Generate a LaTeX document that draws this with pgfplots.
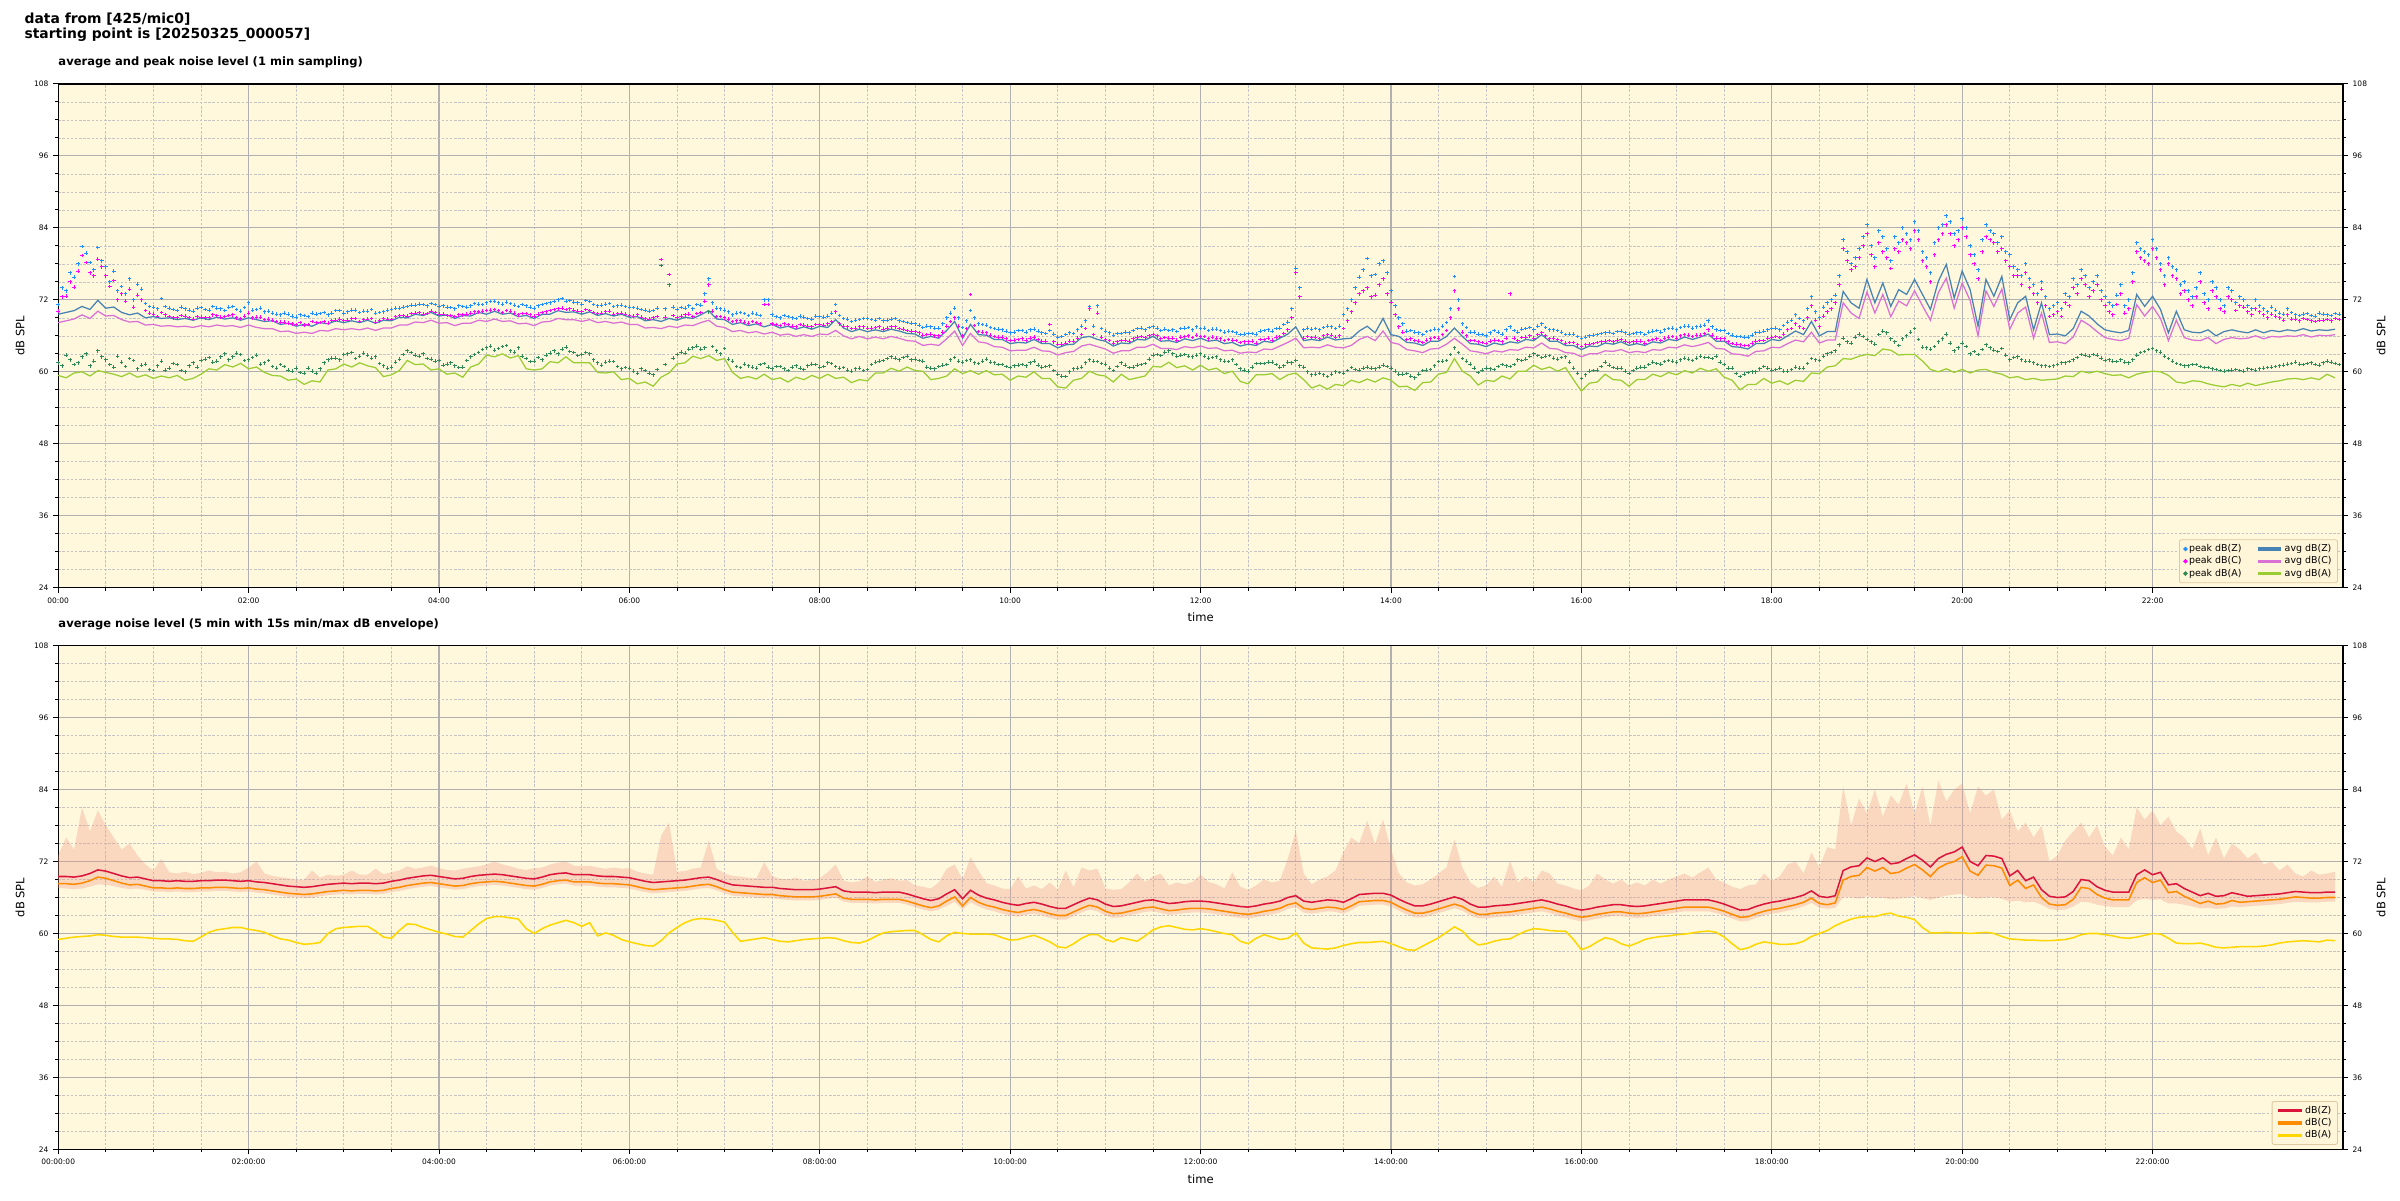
\documentclass[border=0pt]{standalone}
\usepackage{fontspec}
\setmainfont{DejaVu Sans}
\usepackage{pgfplots}
\usepackage{pgfplotstable}
\pgfplotsset{compat=1.18}

\definecolor{bgc}{RGB}{255,248,220}
\definecolor{gridmaj}{RGB}{176,176,176}
\definecolor{gridmin}{RGB}{196,196,196}
\definecolor{pkZ}{RGB}{30,144,255}
\definecolor{pkC}{RGB}{255,0,255}
\definecolor{pkA}{RGB}{46,139,87}
\definecolor{avZ}{RGB}{70,130,180}
\definecolor{avC}{RGB}{218,112,214}
\definecolor{avA}{RGB}{154,205,50}
\definecolor{lnZ}{RGB}{220,20,60}
\definecolor{lnC}{RGB}{255,140,0}
\definecolor{lnA}{RGB}{255,215,0}
\definecolor{envc}{RGB}{238,150,130}
\definecolor{legfill}{RGB}{255,246,218}
\definecolor{legdraw}{RGB}{224,200,160}

\pgfplotstableread{
t aZ aC aA pZ pC pA
0 69.6 68.2 59.4 71.2 70.1 61.5
5 69.9 68.5 59.0 73.5 72.6 62.8
10 70.2 68.8 59.8 75.8 74.1 61.2
15 70.9 69.5 60.0 80.9 79.4 62.5
20 70.4 68.9 59.3 78.2 76.5 61.0
25 71.9 70.1 60.2 80.7 78.8 63.5
30 70.6 69.3 59.9 77.5 76.0 62.0
35 70.8 69.4 59.6 76.8 75.2 60.8
40 69.9 68.7 59.2 74.2 73.0 61.6
45 69.5 68.3 59.8 75.5 73.8 62.2
50 69.8 68.4 59.1 74.6 72.8 60.5
55 69.0 67.8 59.5 71.4 70.2 61.3
60 69.2 67.9 58.9 70.8 69.6 60.2
65 68.9 67.6 59.3 72.2 69.9 61.8
70 69.0 67.7 59.0 70.6 69.2 60.6
75 68.7 67.5 59.4 70.2 69.0 61.2
80 68.9 67.6 58.6 70.5 69.3 60.0
85 68.6 67.4 58.9 70.1 68.8 61.5
90 69.0 67.7 59.6 70.7 69.1 61.9
95 68.7 67.5 60.5 70.3 69.0 62.4
100 69.1 67.8 60.3 70.6 69.4 61.8
105 68.8 67.6 61.2 70.2 69.2 63.0
110 69.0 67.7 60.8 70.9 69.5 62.5
115 68.6 67.4 61.4 70.1 68.9 62.9
120 69.0 67.8 60.5 71.5 69.8 62.0
125 68.7 67.4 60.8 70.4 69.1 62.8
130 68.4 67.2 59.9 70.0 68.7 61.5
135 68.5 67.2 59.4 69.8 68.6 60.9
140 67.9 66.7 59.3 69.5 68.3 61.2
145 68.1 66.8 58.6 69.6 68.1 60.3
150 67.6 66.4 58.8 69.1 67.9 60.6
155 67.9 66.6 57.9 69.4 67.8 59.8
160 67.6 66.4 58.5 69.8 68.4 60.1
165 68.2 66.9 58.3 69.7 68.2 60.5
170 68.0 66.8 60.3 69.5 68.1 62.0
175 68.5 67.2 60.5 70.2 68.6 62.3
180 68.2 67.0 61.3 69.8 68.5 62.9
185 68.5 67.2 60.8 70.3 68.9 63.2
190 68.2 67.0 61.5 69.9 68.4 62.6
195 68.6 67.3 61.0 70.1 68.8 62.8
200 68.1 66.9 60.7 69.8 68.3 62.5
205 68.6 67.3 59.2 70.0 68.9 61.0
210 68.5 67.3 59.5 70.4 68.7 60.8
215 69.1 67.8 60.2 70.6 69.4 62.1
220 69.0 67.8 61.9 70.9 69.3 63.5
225 69.6 68.3 61.2 71.1 69.8 62.8
230 69.4 68.2 61.3 71.2 69.6 63.0
235 69.9 68.6 60.3 71.4 70.1 62.1
240 69.3 68.1 60.5 70.9 69.6 61.9
245 69.5 68.2 59.6 70.8 69.4 61.3
250 68.9 67.7 59.8 70.5 69.2 61.0
255 69.4 68.1 59.1 70.9 69.5 60.8
260 69.3 68.1 60.8 71.0 69.8 62.5
265 69.9 68.6 61.3 71.3 70.0 63.2
270 69.6 68.4 62.8 71.5 70.2 64.0
275 70.1 68.8 62.5 71.8 70.4 63.6
280 69.6 68.4 63.0 71.3 69.9 64.2
285 69.8 68.5 62.3 71.4 70.1 63.5
290 69.2 68.0 62.7 70.9 69.5 64.0
295 69.4 68.1 60.5 71.0 69.7 62.2
300 68.9 67.7 60.3 70.6 69.3 61.8
305 69.6 68.3 60.5 71.2 69.9 62.0
310 69.6 68.4 61.7 71.5 70.2 63.1
315 70.2 68.9 61.5 72.0 70.5 63.0
320 69.9 68.7 62.5 71.8 70.4 64.1
325 70.0 68.7 61.5 71.6 70.3 63.2
330 69.6 68.4 61.5 71.3 70.0 62.9
335 70.0 68.7 61.5 71.7 70.2 63.0
340 69.4 68.2 59.9 71.0 69.7 61.5
345 69.7 68.4 59.8 71.3 70.0 61.6
350 69.3 68.1 60.0 70.9 69.6 61.7
355 69.6 68.3 58.7 71.1 69.8 60.5
360 69.1 67.9 58.9 70.8 69.4 60.6
365 69.2 67.9 58.0 70.6 69.5 59.8
370 68.5 67.3 58.3 70.3 68.9 60.2
375 68.7 67.4 57.6 70.2 69.0 59.5
380 68.4 67.2 59.1 78.7 78.7 77.7
385 68.9 67.6 59.8 76.2 76.2 74.5
390 68.6 67.4 61.3 70.4 69.0 62.9
395 69.1 67.8 61.5 70.6 69.5 63.1
400 68.9 67.7 62.6 70.5 69.2 64.0
405 69.5 68.2 62.2 71.1 69.9 63.8
410 70.2 68.6 62.7 75.5 74.5 70.0
415 68.8 67.6 61.9 70.6 69.2 63.5
420 68.7 67.4 62.2 70.3 69.0 63.9
425 67.9 66.7 59.9 69.5 68.4 61.8
430 68.2 66.9 58.9 69.9 68.5 60.7
435 67.7 66.5 59.2 69.4 68.1 61.0
440 68.0 66.7 58.8 69.6 68.2 60.6
445 67.5 66.3 59.6 72.0 71.2 61.4
450 67.9 66.6 58.7 69.5 68.0 60.5
455 67.3 66.1 59.0 69.0 67.7 60.9
460 67.6 66.3 58.3 69.2 67.9 60.2
465 67.1 65.9 59.1 68.9 67.5 61.0
470 67.5 66.2 58.7 69.1 67.8 60.4
475 67.1 65.9 59.4 68.8 67.5 61.3
480 67.6 66.3 58.9 69.2 67.9 60.8
485 67.4 66.2 59.6 69.3 68.0 61.5
490 68.7 66.9 58.9 71.2 70.0 60.9
495 67.3 66.0 59.1 68.9 67.6 60.7
500 66.7 65.5 58.2 68.4 67.2 60.1
505 67.1 65.9 58.7 68.7 67.5 60.6
510 66.7 65.5 58.5 68.9 67.3 60.4
515 67.0 65.8 59.8 68.6 67.4 61.6
520 66.7 65.5 59.8 68.5 67.1 61.9
525 67.1 65.9 60.6 68.8 67.5 62.5
530 66.8 65.6 60.1 68.5 67.2 62.0
535 66.4 65.2 60.8 68.2 66.9 62.6
540 66.3 65.1 60.2 68.0 66.7 62.1
545 65.6 64.4 60.1 67.4 66.1 61.8
550 65.9 64.6 58.7 67.5 66.3 60.6
555 65.6 64.4 58.9 67.3 66.0 60.9
560 66.9 65.5 59.3 69.0 67.6 61.2
565 68.4 66.8 60.5 70.6 69.0 62.4
570 65.6 64.4 59.7 67.4 66.0 61.6
575 67.9 66.4 60.2 70.2 72.9 62.0
580 66.2 65.0 59.6 68.0 66.7 61.4
585 66.1 64.8 60.2 67.8 66.5 62.1
590 65.4 64.2 59.5 67.2 65.9 61.5
595 65.4 64.1 59.6 67.0 65.8 61.2
600 64.7 63.5 58.6 66.5 65.2 60.7
605 64.9 63.6 59.3 66.9 65.4 61.1
610 64.8 63.6 59.1 66.6 65.3 61.0
615 65.4 64.1 60.0 67.1 65.8 61.8
620 64.7 63.5 58.9 66.5 65.1 60.8
625 64.7 63.4 58.9 66.9 67.9 61.0
630 64.0 62.8 57.5 65.8 64.6 59.6
635 64.5 63.2 57.3 66.2 64.8 59.2
640 64.6 63.4 58.6 66.4 65.1 60.5
645 65.7 64.3 58.9 67.6 66.2 60.8
650 65.9 64.6 60.1 70.9 70.5 62.0
655 65.4 64.2 59.5 71.0 69.8 61.7
660 65.1 63.8 59.3 66.8 65.4 61.3
665 64.3 63.1 58.3 66.1 64.8 60.2
670 64.8 63.5 59.6 66.4 65.2 61.5
675 64.7 63.5 58.7 66.5 65.1 60.7
680 65.4 64.1 59.0 67.2 65.8 61.1
685 65.3 64.1 59.3 67.0 65.7 61.4
690 65.9 64.6 60.9 67.5 66.2 62.8
695 65.1 63.9 60.8 66.9 65.5 62.7
700 65.2 63.9 61.6 66.9 65.6 63.5
705 64.9 63.7 60.7 66.7 65.3 62.6
710 65.5 64.2 61.0 67.3 65.9 62.9
715 65.2 64.0 60.3 67.0 65.7 62.5
720 65.6 64.3 61.1 67.2 65.9 63.0
725 65.1 63.9 60.3 66.9 65.5 62.3
730 65.3 64.0 60.6 67.1 65.6 62.5
735 64.7 63.5 59.7 66.6 65.2 61.8
740 64.9 63.6 60.1 66.7 65.3 62.0
745 64.3 63.1 58.4 66.2 64.9 60.5
750 64.6 63.3 58.0 66.4 65.0 60.1
755 64.4 63.2 59.5 66.3 64.8 61.4
760 65.1 63.8 59.5 66.9 65.4 61.4
765 64.9 63.7 59.7 66.8 65.3 61.6
770 65.6 64.3 58.7 67.3 65.9 60.8
775 66.3 64.9 59.5 68.3 67.0 61.6
780 67.5 65.6 59.8 77.3 76.5 61.9
785 65.2 64.0 58.7 67.0 65.6 60.8
790 65.4 64.1 57.3 67.1 65.7 59.5
795 65.2 64.0 57.8 67.0 65.5 59.8
800 65.8 64.5 57.1 67.6 66.2 59.2
805 65.3 64.1 57.9 67.2 65.8 60.0
810 65.5 64.0 57.7 69.5 67.2 59.8
815 65.6 64.4 58.6 72.0 70.0 60.7
820 66.8 65.4 58.2 75.8 73.0 60.3
825 67.6 65.9 58.8 78.9 74.0 60.8
830 66.5 65.2 58.3 76.2 72.8 60.5
835 68.9 66.8 59.0 78.5 75.5 61.1
840 66.2 64.9 58.6 73.5 71.6 60.6
845 65.9 64.6 57.5 69.0 67.5 59.6
850 64.9 63.7 57.6 66.8 65.4 59.7
855 64.8 63.5 56.9 66.6 65.2 59.0
860 64.4 63.2 58.2 66.2 64.9 60.2
865 65.1 63.8 58.3 66.9 65.5 60.4
870 65.1 63.9 59.6 67.0 65.6 61.7
875 65.9 64.6 59.9 68.2 66.9 61.9
880 67.3 65.6 62.2 75.9 73.5 64.0
885 65.9 64.6 60.1 68.0 66.6 62.2
890 64.7 63.5 59.3 66.6 65.2 61.3
895 64.6 63.3 57.8 66.3 65.0 59.9
900 64.2 63.0 58.6 66.0 64.7 60.6
905 64.8 63.5 58.4 66.9 65.3 60.4
910 64.5 63.3 59.3 66.3 65.0 61.2
915 65.0 63.7 58.8 67.5 73.0 60.9
920 64.8 63.6 60.1 66.6 65.2 62.0
925 65.4 64.1 60.1 67.2 65.8 62.1
930 65.2 64.0 61.1 67.0 65.6 63.0
935 66.2 64.8 60.4 68.0 66.5 62.4
940 65.1 63.9 60.8 67.0 65.5 62.7
945 65.1 63.8 60.1 66.9 65.4 62.1
950 64.4 63.2 60.7 66.2 64.8 62.5
955 64.4 63.1 58.7 66.3 64.9 60.6
960 63.7 62.5 56.8 65.6 64.2 58.9
965 64.3 63.0 58.1 66.0 64.6 60.1
970 64.2 63.0 58.3 66.2 64.9 60.3
975 64.8 63.5 59.6 66.5 65.1 61.6
980 64.6 63.4 58.7 66.4 65.0 60.7
985 65.0 63.7 58.6 66.8 65.4 60.6
990 64.4 63.2 57.6 66.3 64.9 59.7
995 64.7 63.4 58.7 66.5 65.1 60.6
1000 64.4 63.2 58.7 66.2 64.8 60.8
1005 65.0 63.7 59.6 66.8 65.4 61.6
1010 64.8 63.6 59.2 66.6 65.2 61.3
1015 65.4 64.1 59.9 67.2 65.8 61.9
1020 65.2 64.0 59.5 67.0 65.6 61.6
1025 65.8 64.5 60.2 67.6 66.2 62.3
1030 65.4 64.2 59.8 67.3 65.9 61.9
1035 65.8 64.5 60.6 67.6 66.1 62.6
1040 66.3 64.9 60.1 68.5 67.0 62.4
1045 65.1 63.9 60.5 67.0 65.6 62.6
1050 65.1 63.8 59.1 66.9 65.5 61.2
1055 64.2 63.0 58.6 66.1 64.7 60.6
1060 64.1 62.9 57.0 65.9 64.5 59.2
1065 63.8 62.6 57.9 65.8 64.4 59.9
1070 64.7 63.4 57.9 66.5 65.1 60.0
1075 64.7 63.5 58.9 66.8 65.2 60.9
1080 65.4 64.1 58.1 67.2 65.8 60.3
1085 65.2 64.0 58.5 67.0 65.7 60.6
1090 66.0 64.7 57.9 68.3 67.0 60.1
1095 66.8 65.3 58.6 69.5 68.0 60.8
1100 66.2 65.0 58.4 68.5 67.2 60.6
1105 68.4 66.6 59.8 72.5 71.0 62.2
1110 66.0 64.8 59.7 69.0 67.5 61.9
1115 66.7 65.3 60.8 71.5 70.0 63.0
1120 66.7 65.3 61.0 72.8 71.5 63.5
1125 73.4 71.5 62.2 82.0 80.5 65.6
1130 71.5 69.8 62.1 78.0 77.0 64.8
1135 70.6 68.9 62.6 80.5 79.0 66.3
1140 75.4 73.3 62.9 84.5 83.0 65.4
1145 71.5 69.8 62.7 79.0 77.5 64.6
1150 74.8 72.9 63.8 82.5 80.0 66.8
1155 70.9 69.2 63.6 78.5 77.2 65.5
1160 73.7 71.8 62.8 81.5 80.0 64.4
1165 72.9 71.0 62.9 83.0 81.5 66.0
1170 75.4 73.5 62.9 85.0 83.5 67.2
1175 72.9 71.0 61.8 80.0 78.5 64.1
1180 70.4 68.6 60.4 76.5 75.0 63.8
1185 75.1 73.2 60.0 84.0 82.0 65.0
1190 77.9 75.6 60.5 86.0 84.5 66.3
1195 72.3 70.6 59.9 83.0 81.0 63.5
1200 76.8 74.8 60.4 85.5 84.0 64.8
1205 73.7 71.9 59.8 81.0 79.5 63.0
1210 67.6 66.0 60.3 77.0 75.5 62.9
1215 75.4 73.5 60.4 84.5 82.5 64.5
1220 72.6 70.9 59.9 83.0 81.5 63.6
1225 75.9 73.8 59.6 82.5 80.5 63.9
1230 68.7 67.1 59.0 79.5 77.5 62.0
1235 71.5 69.8 59.2 77.0 76.0 62.5
1240 72.6 70.8 58.7 78.0 76.5 61.8
1245 67.0 65.6 58.9 74.5 73.0 61.5
1250 71.5 69.8 58.6 75.0 73.8 61.0
1255 66.2 64.9 58.7 70.5 69.2 60.9
1260 66.3 65.0 58.8 71.5 70.0 61.2
1265 66.0 64.7 59.3 73.0 71.5 61.5
1270 67.2 65.8 59.2 75.5 74.0 62.0
1275 70.1 68.6 60.1 77.0 75.5 62.9
1280 69.3 67.8 59.8 74.0 72.5 62.6
1285 68.0 66.7 60.1 76.0 74.5 62.8
1290 67.0 65.7 59.7 72.5 71.0 61.9
1295 66.7 65.4 59.4 71.0 69.5 61.8
1300 66.5 65.2 59.5 74.5 73.0 62.0
1305 66.9 65.6 59.0 72.0 70.5 61.5
1310 72.9 71.2 59.6 81.5 80.0 62.8
1315 70.9 69.3 59.9 80.0 78.5 63.4
1320 72.6 70.9 60.1 82.0 80.5 63.9
1325 70.4 68.9 60.0 78.0 77.0 63.3
1330 66.5 65.2 59.4 79.0 78.0 62.2
1335 70.1 68.6 58.3 77.0 75.5 61.4
1340 67.0 65.7 58.1 75.0 73.5 61.0
1345 66.6 65.3 58.5 72.5 71.0 61.2
1350 66.5 65.2 58.4 76.5 75.0 60.9
1355 67.0 65.7 58.0 72.0 70.5 60.7
1360 66.0 64.7 57.7 74.0 72.5 60.4
1365 66.7 65.4 57.5 71.0 70.0 60.1
1370 67.0 65.7 57.9 73.5 72.0 60.3
1375 66.7 65.5 57.6 72.5 71.0 60.2
1380 66.5 65.6 58.1 71.0 70.0 60.5
1385 67.0 66.0 57.7 72.0 70.5 60.3
1390 66.5 65.5 58.0 70.5 69.5 60.6
1395 66.9 65.9 58.3 70.8 69.6 60.8
1400 66.7 65.8 58.5 69.8 69.0 61.0
1405 67.0 66.0 58.8 70.5 69.5 61.3
1410 66.8 65.9 58.9 69.5 68.8 61.6
1415 67.2 66.2 58.7 69.6 68.9 61.2
1420 66.8 65.8 59.0 69.4 68.5 61.5
1425 67.0 66.1 58.7 69.8 68.6 61.1
1430 66.9 66.0 59.6 69.5 68.7 61.8
1435 67.1 66.2 59.0 69.7 68.9 61.4
}\topdata

% second set of 1-min peak samples (between the rows above)
\pgfplotstableread{
t pZ pC pA
2.5 74.0 72.5 61.0
7.5 76.5 75.0 62.0
12.5 78.0 76.8 61.5
17.5 79.8 78.2 63.0
22.5 77.0 76.0 61.8
27.5 78.5 77.5 62.5
32.5 75.0 74.2 61.2
37.5 73.5 72.0 62.6
42.5 73.0 71.8 60.9
47.5 72.0 70.8 61.9
52.5 73.8 72.0 61.1
57.5 70.9 69.8 60.4
62.5 70.5 69.2 61.0
67.5 70.9 69.5 60.3
72.5 70.4 69.0 61.4
77.5 70.8 69.4 60.2
82.5 70.3 69.0 61.0
87.5 70.6 69.2 60.8
92.5 70.4 69.0 62.1
97.5 70.9 69.5 61.6
102.5 70.5 69.1 62.5
107.5 70.8 69.4 62.0
112.5 70.4 69.0 63.1
117.5 70.7 69.3 61.9
122.5 70.3 69.0 62.4
127.5 70.6 69.1 61.3
132.5 70.1 68.8 61.9
137.5 69.6 68.4 60.6
142.5 69.8 68.3 60.9
147.5 69.3 68.0 60.1
152.5 69.5 68.2 59.9
157.5 69.2 67.9 60.6
162.5 69.6 68.2 59.8
167.5 69.9 68.4 61.5
172.5 69.8 68.5 62.3
177.5 70.2 68.8 62.0
182.5 70.0 68.6 63.0
187.5 70.3 68.9 62.2
192.5 70.1 68.7 63.1
197.5 70.4 68.9 62.3
202.5 69.9 68.5 61.4
207.5 70.3 68.8 60.6
212.5 70.6 69.2 61.6
217.5 70.8 69.4 62.9
222.5 71.1 69.7 63.2
227.5 71.3 69.9 62.6
232.5 71.0 69.7 62.2
237.5 71.2 69.9 61.8
242.5 71.0 69.6 61.1
247.5 70.7 69.4 61.5
252.5 71.0 69.5 60.7
257.5 70.8 69.6 61.9
262.5 71.4 70.0 62.9
267.5 71.2 70.1 63.7
272.5 71.7 70.3 64.3
277.5 71.5 70.2 63.9
282.5 71.6 70.2 64.4
287.5 71.1 69.8 63.3
292.5 71.2 69.7 62.6
297.5 70.8 69.5 61.7
302.5 71.0 69.6 62.4
307.5 71.4 70.0 62.8
312.5 71.7 70.4 63.5
317.5 72.2 70.6 63.8
322.5 71.9 70.5 63.4
327.5 71.5 70.1 62.7
332.5 71.9 70.4 63.2
337.5 71.2 69.9 62.0
342.5 71.1 69.8 61.1
347.5 71.4 70.1 61.8
352.5 71.0 69.7 60.9
357.5 70.9 69.6 60.7
362.5 70.7 69.3 60.1
367.5 70.4 69.1 60.5
372.5 70.1 68.8 59.8
377.5 70.6 69.2 60.4
382.5 70.5 69.1 61.2
387.5 70.8 69.4 62.3
392.5 70.7 69.3 63.3
397.5 71.0 69.6 63.8
402.5 71.2 69.7 64.3
407.5 73.0 71.8 64.0
412.5 71.5 70.1 64.2
417.5 70.5 69.2 63.0
422.5 70.0 68.8 62.1
427.5 69.8 68.5 60.9
432.5 69.7 68.3 61.3
437.5 69.8 68.4 60.8
442.5 69.4 68.0 61.2
447.5 72.0 71.2 60.8
452.5 69.2 67.9 60.9
457.5 69.4 68.0 60.5
462.5 69.0 67.6 60.8
467.5 69.3 67.9 60.6
472.5 68.9 67.6 61.0
477.5 69.3 67.9 61.2
482.5 69.1 67.8 60.9
487.5 69.8 68.4 61.4
492.5 69.4 68.0 60.6
497.5 68.8 67.5 60.3
502.5 68.6 67.3 60.5
507.5 68.9 67.5 60.2
512.5 68.7 67.3 61.2
517.5 68.9 67.5 61.8
522.5 68.6 67.3 62.2
527.5 68.9 67.5 62.3
532.5 68.4 67.1 62.4
537.5 68.1 66.8 62.0
542.5 67.8 66.5 61.9
547.5 67.6 66.2 60.8
552.5 67.3 66.0 60.5
557.5 68.0 66.6 61.1
562.5 69.8 68.4 62.0
567.5 69.0 67.6 61.8
572.5 68.5 67.2 61.9
577.5 69.0 67.7 61.5
582.5 67.9 66.6 61.8
587.5 67.4 66.1 61.6
592.5 67.1 65.8 61.2
597.5 66.8 65.5 60.9
602.5 66.6 65.3 61.0
607.5 66.9 65.5 61.2
612.5 67.0 65.6 61.5
617.5 66.8 65.4 61.1
622.5 66.4 65.1 60.9
627.5 66.3 65.0 60.2
632.5 65.9 64.6 59.3
637.5 66.5 65.1 60.0
642.5 67.0 65.6 60.6
647.5 68.5 67.2 61.5
652.5 67.6 66.2 61.8
657.5 67.2 65.8 61.4
662.5 66.5 65.2 60.6
667.5 66.4 65.0 60.9
672.5 66.6 65.3 61.1
677.5 66.9 65.5 60.8
682.5 67.3 65.9 61.2
687.5 67.4 66.0 62.1
692.5 67.3 66.0 62.9
697.5 67.1 65.7 63.3
702.5 67.0 65.6 63.0
707.5 67.2 65.8 62.8
712.5 67.4 66.0 62.6
717.5 67.5 66.1 62.8
722.5 67.3 65.9 62.6
727.5 67.1 65.8 62.4
732.5 66.9 65.5 62.0
737.5 66.8 65.4 61.7
742.5 66.5 65.2 61.2
747.5 66.3 65.0 60.3
752.5 66.4 65.1 60.8
757.5 66.8 65.4 61.4
762.5 67.0 65.6 61.6
767.5 67.2 65.8 61.2
772.5 67.9 66.4 61.0
777.5 70.5 69.0 61.5
782.5 74.0 72.5 61.0
787.5 67.3 65.9 60.0
792.5 67.2 65.8 59.6
797.5 67.4 66.0 59.5
802.5 67.5 66.1 59.6
807.5 67.6 66.0 59.9
812.5 70.5 68.5 60.2
817.5 74.0 71.5 60.4
822.5 77.0 73.5 60.6
827.5 76.0 72.5 60.6
832.5 78.0 74.5 60.8
837.5 76.5 73.0 60.9
842.5 71.0 69.5 60.1
847.5 68.0 66.6 59.6
852.5 66.9 65.5 59.3
857.5 66.5 65.1 59.6
862.5 66.7 65.3 60.3
867.5 67.1 65.7 61.0
872.5 67.6 66.2 61.8
877.5 70.5 69.0 62.9
882.5 72.0 70.5 63.2
887.5 67.4 66.0 61.8
892.5 66.6 65.2 60.6
897.5 66.2 64.9 60.3
902.5 66.5 65.1 60.5
907.5 66.6 65.2 60.9
912.5 67.0 65.6 61.0
917.5 66.9 65.6 61.2
922.5 67.1 65.7 61.9
927.5 67.4 66.0 62.6
932.5 67.6 66.2 62.7
937.5 67.4 66.0 62.6
942.5 67.0 65.6 62.3
947.5 66.6 65.2 62.4
952.5 66.3 64.9 61.6
957.5 65.9 64.5 59.8
962.5 65.8 64.5 59.5
967.5 66.1 64.7 60.2
972.5 66.4 65.0 60.9
977.5 66.6 65.2 61.1
982.5 66.7 65.3 60.6
987.5 66.5 65.1 60.1
992.5 66.4 65.0 60.2
997.5 66.5 65.1 60.8
1002.5 66.6 65.2 61.2
1007.5 66.9 65.5 61.4
1012.5 67.0 65.6 61.7
1017.5 67.3 65.9 61.8
1022.5 67.4 66.0 62.0
1027.5 67.6 66.1 62.1
1032.5 67.5 66.1 62.3
1037.5 67.8 66.4 62.4
1042.5 67.5 66.1 62.2
1047.5 66.9 65.5 61.6
1052.5 66.4 65.0 60.6
1057.5 65.9 64.6 59.7
1062.5 65.8 64.4 59.6
1067.5 66.1 64.8 60.0
1072.5 66.6 65.2 60.5
1077.5 67.0 65.6 60.6
1082.5 67.3 65.9 60.4
1087.5 67.7 66.3 60.1
1092.5 68.6 67.2 60.4
1097.5 68.9 67.5 60.6
1102.5 70.5 69.0 61.4
1107.5 70.0 68.6 62.0
1112.5 70.8 69.3 62.6
1117.5 72.0 70.5 63.2
1122.5 76.0 74.5 64.5
1127.5 80.0 78.5 65.0
1132.5 79.0 77.5 65.8
1137.5 82.5 81.0 65.9
1142.5 81.0 79.5 65.0
1147.5 83.5 81.5 66.2
1152.5 80.5 79.0 66.5
1157.5 82.5 80.5 65.0
1162.5 84.0 82.0 65.5
1167.5 82.0 80.5 66.6
1172.5 83.5 82.0 65.4
1177.5 79.0 77.5 64.0
1182.5 81.5 79.5 64.2
1187.5 84.5 83.0 65.5
1192.5 85.0 83.0 64.8
1197.5 83.5 82.0 64.0
1202.5 84.0 82.5 64.2
1207.5 79.5 78.0 63.4
1212.5 82.0 80.0 63.7
1217.5 83.5 82.0 64.0
1222.5 81.5 80.0 63.4
1227.5 80.0 78.5 62.8
1232.5 77.5 76.0 62.4
1237.5 76.0 74.5 62.0
1242.5 75.5 74.0 61.8
1247.5 73.0 71.5 61.2
1252.5 72.5 71.0 61.0
1257.5 71.0 69.5 61.0
1262.5 70.5 69.2 61.5
1267.5 72.5 71.0 61.7
1272.5 74.5 73.0 62.4
1277.5 76.0 74.5 62.8
1282.5 75.0 73.5 62.9
1287.5 73.5 72.0 62.3
1292.5 71.5 70.0 62.0
1297.5 72.8 71.2 61.7
1302.5 71.0 69.8 61.6
1307.5 76.5 75.0 62.0
1312.5 80.5 79.0 63.2
1317.5 79.5 78.0 63.7
1322.5 80.5 79.0 63.5
1327.5 76.0 74.5 62.6
1332.5 77.5 76.0 61.8
1337.5 74.5 73.0 61.2
1342.5 73.5 72.0 61.0
1347.5 74.0 72.5 61.2
1352.5 73.0 71.5 60.7
1357.5 75.0 73.5 60.5
1362.5 72.0 70.5 60.2
1367.5 74.0 72.5 60.2
1372.5 71.5 70.2 60.4
1377.5 72.0 70.8 60.1
1382.5 70.5 69.5 60.4
1387.5 71.0 70.0 60.5
1392.5 70.0 69.0 60.7
1397.5 70.3 69.3 60.9
1402.5 69.6 68.6 61.1
1407.5 69.9 68.8 61.4
1412.5 69.4 68.5 61.3
1417.5 69.7 68.7 61.4
1422.5 69.3 68.4 61.2
1427.5 69.6 68.6 61.5
1432.5 69.4 68.5 61.6
1437.5 69.6 68.7 61.2
}\topdataB

\pgfplotstableread{
t Z C A lo hi
0 69.5 68.3 59.0 67.6 73.0
5 69.5 68.3 59.2 67.5 76.0
10 69.4 68.2 59.4 67.4 74.0
15 69.6 68.4 59.5 67.5 81.0
20 70.0 68.8 59.6 67.8 77.0
25 70.6 69.4 59.8 68.2 80.5
30 70.4 69.2 59.7 68.1 78.0
35 70.0 68.8 59.5 67.9 76.0
40 69.6 68.4 59.4 67.6 74.0
45 69.3 68.1 59.4 67.4 75.0
50 69.4 68.2 59.4 67.5 73.0
55 69.1 67.9 59.3 67.3 71.5
60 68.8 67.6 59.2 67.0 70.5
65 68.8 67.6 59.1 67.0 72.4
70 68.7 67.5 59.1 66.9 70.2
75 68.8 67.6 59.0 67.0 70.0
80 68.7 67.5 58.8 66.9 70.3
85 68.7 67.5 58.7 66.9 69.9
90 68.8 67.6 59.4 67.0 70.1
95 68.8 67.6 60.2 67.0 70.5
100 68.9 67.7 60.6 67.1 70.2
105 68.9 67.7 60.8 67.1 70.3
110 68.8 67.6 61.0 67.0 70.0
115 68.7 67.5 61.0 66.9 70.2
120 68.8 67.6 60.7 67.0 71.0
125 68.6 67.4 60.5 66.8 72.0
130 68.5 67.3 60.2 66.7 70.0
135 68.3 67.1 59.6 66.5 69.6
140 68.1 66.9 59.1 66.3 69.4
145 67.9 66.7 58.9 66.1 69.2
150 67.8 66.6 58.5 66.0 69.0
155 67.7 66.5 58.2 65.9 69.0
160 67.8 66.6 58.3 66.0 70.5
165 68.0 66.8 58.5 66.2 69.3
170 68.2 67.0 60.0 66.4 69.8
175 68.3 67.1 60.8 66.5 69.6
180 68.4 67.2 61.0 66.6 69.8
185 68.3 67.1 61.1 66.5 70.5
190 68.4 67.2 61.2 66.6 69.8
195 68.4 67.2 61.2 66.6 69.8
200 68.3 67.1 60.4 66.5 70.8
205 68.4 67.2 59.4 66.6 69.9
210 68.7 67.5 59.2 66.9 70.2
215 68.9 67.7 60.5 67.1 70.5
220 69.2 68.0 61.6 67.4 71.2
225 69.4 68.2 61.5 67.6 70.8
230 69.6 68.4 61.0 67.8 71.0
235 69.7 68.5 60.6 67.9 71.3
240 69.5 68.3 60.2 67.7 70.9
245 69.3 68.1 59.9 67.5 70.6
250 69.1 67.9 59.5 67.3 70.5
255 69.2 68.0 59.4 67.4 70.8
260 69.5 68.3 60.5 67.7 71.0
265 69.7 68.5 61.6 67.9 71.2
270 69.8 68.6 62.5 68.0 71.5
275 69.9 68.7 62.8 68.1 72.0
280 69.8 68.6 62.8 68.0 71.5
285 69.6 68.4 62.6 67.8 71.2
290 69.4 68.2 62.4 67.6 70.8
295 69.2 68.0 60.8 67.4 70.6
300 69.1 67.9 60.0 67.3 70.9
305 69.4 68.2 60.8 67.6 71.0
310 69.8 68.6 61.4 68.0 71.5
315 70.0 68.8 61.8 68.2 71.8
320 70.1 68.9 62.2 68.3 72.0
325 69.8 68.6 61.8 68.0 71.3
330 69.8 68.6 61.2 68.0 71.2
335 69.8 68.6 61.8 68.0 71.3
340 69.6 68.4 59.6 67.8 71.0
345 69.5 68.3 60.1 67.7 70.8
350 69.5 68.3 59.7 67.7 71.0
355 69.4 68.2 59.0 67.6 70.8
360 69.3 68.1 58.6 67.5 70.9
365 69.0 67.8 58.3 67.2 70.3
370 68.7 67.5 58.0 66.9 70.0
375 68.5 67.3 57.9 66.7 69.8
380 68.6 67.4 58.8 66.8 76.3
385 68.7 67.5 60.1 66.9 78.5
390 68.8 67.6 61.0 67.0 70.3
395 68.9 67.7 61.8 67.1 70.4
400 69.1 67.9 62.3 67.3 70.8
405 69.3 68.1 62.5 67.5 71.0
410 69.4 68.2 62.4 67.6 75.5
415 69.0 67.8 62.2 67.2 70.8
420 68.5 67.3 61.9 66.7 70.0
425 68.1 66.9 60.2 66.3 69.6
430 68.0 66.8 58.7 66.2 69.5
435 67.9 66.7 58.9 66.1 69.3
440 67.8 66.6 59.1 66.0 69.2
445 67.7 66.5 59.3 65.9 71.9
450 67.7 66.5 59.0 65.9 69.6
455 67.5 66.3 58.7 65.7 69.1
460 67.4 66.2 58.6 65.6 69.0
465 67.3 66.1 58.8 65.5 69.3
470 67.3 66.1 59.0 65.5 68.8
475 67.3 66.1 59.1 65.5 68.9
480 67.4 66.2 59.2 65.6 69.2
485 67.6 66.4 59.3 65.8 70.2
490 67.8 66.6 59.2 66.0 71.5
495 67.1 65.9 58.8 65.3 68.8
500 66.9 65.7 58.5 65.1 68.5
505 66.9 65.7 58.4 65.1 68.7
510 66.9 65.7 58.8 65.1 69.5
515 66.8 65.6 59.5 65.0 68.6
520 66.9 65.7 60.1 65.1 68.9
525 66.9 65.7 60.3 65.1 69.2
530 66.9 65.7 60.4 65.1 68.8
535 66.6 65.4 60.5 64.8 68.9
540 66.2 65.0 60.5 64.4 68.0
545 65.8 64.6 59.8 64.0 67.8
550 65.5 64.3 59.0 63.7 67.5
555 65.8 64.6 58.6 64.0 68.5
560 66.6 65.4 59.6 64.6 70.8
565 67.3 66.1 60.2 65.3 71.5
570 65.8 64.6 60.0 64.0 69.0
575 67.2 66.0 59.9 65.2 72.7
580 66.4 65.2 59.9 64.5 70.5
585 65.9 64.7 59.9 64.0 68.4
590 65.6 64.4 59.8 63.7 68.0
595 65.2 64.0 59.3 63.3 67.5
600 64.9 63.7 58.9 63.0 67.4
605 64.7 63.5 59.0 62.8 69.5
610 65.0 63.8 59.4 63.1 67.5
615 65.2 64.0 59.7 63.3 68.0
620 64.9 63.7 59.2 63.0 67.4
625 64.5 63.3 58.6 62.6 68.5
630 64.2 63.0 57.8 62.3 67.3
635 64.2 63.0 57.6 62.3 70.5
640 64.8 63.6 58.3 62.9 67.7
645 65.4 64.2 59.2 63.5 71.0
650 65.9 64.7 59.8 64.0 70.5
655 65.6 64.4 59.8 63.7 70.8
660 64.9 63.7 59.0 63.0 67.5
665 64.5 63.3 58.6 62.6 67.3
670 64.6 63.4 59.3 62.7 67.4
675 64.9 63.7 59.0 63.0 68.5
680 65.2 64.0 58.7 63.3 70.0
685 65.5 64.3 59.6 63.6 68.6
690 65.6 64.4 60.6 63.7 69.5
695 65.3 64.1 61.1 63.4 70.0
700 65.0 63.8 61.3 63.1 68.0
705 65.1 63.9 61.0 63.2 68.5
710 65.3 64.1 60.7 63.4 68.2
715 65.4 64.2 60.6 63.5 68.6
720 65.4 64.2 60.8 63.5 69.8
725 65.3 64.1 60.6 63.4 68.6
730 65.1 63.9 60.3 63.2 68.2
735 64.9 63.7 60.0 63.0 67.5
740 64.7 63.5 59.8 62.8 70.2
745 64.5 63.3 58.7 62.6 67.8
750 64.4 63.2 58.3 62.5 67.3
755 64.6 63.4 59.2 62.7 68.0
760 64.9 63.7 59.8 63.0 69.0
765 65.1 63.9 59.4 63.2 68.5
770 65.4 64.2 59.0 63.5 68.8
775 66.0 64.8 59.2 64.1 72.5
780 66.3 65.1 60.1 64.4 77.1
785 65.4 64.2 58.4 63.5 70.0
790 65.2 64.0 57.6 63.3 68.2
795 65.4 64.2 57.5 63.5 69.0
800 65.6 64.4 57.4 63.7 69.5
805 65.5 64.3 57.6 63.6 70.5
810 65.2 64.0 58.0 63.3 73.5
815 65.8 64.6 58.3 63.9 76.0
820 66.5 65.3 58.5 64.6 75.0
825 66.6 65.4 58.5 64.7 78.8
830 66.7 65.5 58.6 64.8 74.9
835 66.7 65.5 58.7 64.8 79.0
840 66.4 65.2 58.3 64.5 74.0
845 65.7 64.5 57.8 63.8 70.0
850 65.1 63.9 57.3 63.2 68.5
855 64.6 63.4 57.2 62.7 68.0
860 64.6 63.4 57.9 62.7 68.2
865 64.9 63.7 58.6 63.0 69.0
870 65.3 64.1 59.3 63.4 70.0
875 65.7 64.5 60.2 63.8 71.0
880 66.1 64.9 61.1 64.2 75.7
885 65.7 64.5 60.4 63.8 71.0
890 64.9 63.7 59.0 63.0 68.5
895 64.4 63.2 58.1 62.5 67.6
900 64.4 63.2 58.3 62.5 68.0
905 64.6 63.4 58.7 62.7 69.5
910 64.7 63.5 59.0 62.8 67.8
915 64.8 63.6 59.1 62.9 72.1
920 65.0 63.8 59.8 63.1 68.5
925 65.2 64.0 60.4 63.3 69.5
930 65.4 64.2 60.8 63.5 68.5
935 65.6 64.4 60.7 63.7 70.5
940 65.3 64.1 60.5 63.4 70.0
945 64.9 63.7 60.4 63.0 68.3
950 64.6 63.4 60.4 62.7 68.0
955 64.2 63.0 59.0 62.3 67.5
960 63.9 62.7 57.3 62.0 67.2
965 64.1 62.9 57.8 62.2 68.0
970 64.4 63.2 58.6 62.5 70.0
975 64.6 63.4 59.3 62.7 69.0
980 64.8 63.6 59.0 62.9 68.3
985 64.8 63.6 58.3 62.9 69.0
990 64.6 63.4 57.9 62.7 68.0
995 64.5 63.3 58.4 62.6 68.5
1000 64.6 63.4 59.0 62.7 68.0
1005 64.8 63.6 59.3 62.9 69.0
1010 65.0 63.8 59.5 63.1 68.3
1015 65.2 64.0 59.6 63.3 69.0
1020 65.4 64.2 59.8 63.5 69.5
1025 65.6 64.4 59.9 63.7 70.0
1030 65.6 64.4 60.1 63.7 69.3
1035 65.6 64.4 60.3 63.7 70.2
1040 65.6 64.4 60.4 63.7 71.0
1045 65.3 64.1 60.2 63.4 69.0
1050 64.9 63.7 59.4 63.0 68.5
1055 64.4 63.2 58.3 62.5 67.8
1060 63.9 62.7 57.3 62.0 67.4
1065 64.0 62.8 57.6 62.1 68.0
1070 64.5 63.3 58.2 62.6 68.2
1075 64.9 63.7 58.6 63.0 70.0
1080 65.2 64.0 58.4 63.3 68.8
1085 65.4 64.2 58.2 63.5 69.5
1090 65.7 64.5 58.2 63.8 71.5
1095 66.0 64.8 58.3 64.1 72.0
1100 66.4 65.2 58.7 64.5 70.0
1105 67.1 65.9 59.5 65.1 73.5
1110 66.2 65.0 60.0 64.3 71.0
1115 66.0 64.8 60.5 64.1 74.4
1120 66.3 65.1 61.3 64.3 74.0
1125 70.5 68.9 61.9 66.0 84.5
1130 71.1 69.5 62.4 66.0 78.0
1135 71.3 69.7 62.7 65.8 82.5
1140 72.6 71.0 62.8 66.2 80.0
1145 72.0 70.4 62.8 65.9 84.0
1150 72.6 71.0 63.2 66.0 79.5
1155 71.6 70.0 63.4 65.7 83.0
1160 71.8 70.2 62.9 65.8 81.5
1165 72.5 70.9 62.7 66.0 85.0
1170 73.1 71.5 62.3 66.2 80.0
1175 72.2 70.6 61.0 65.9 84.5
1180 71.1 69.5 60.1 65.6 78.0
1185 72.5 70.9 60.1 66.0 85.5
1190 73.2 71.6 60.2 66.3 82.0
1195 73.6 72.0 60.1 66.5 84.0
1200 74.4 72.8 60.1 66.6 85.0
1205 72.0 70.4 60.0 66.0 80.0
1210 71.3 69.7 60.1 65.8 84.5
1215 73.0 71.4 60.2 66.1 83.0
1220 72.9 71.3 60.0 66.0 84.0
1225 72.5 70.9 59.5 65.8 79.0
1230 69.6 68.0 59.1 65.3 80.5
1235 70.5 68.9 59.0 65.5 77.0
1240 68.8 67.5 58.9 65.2 78.5
1245 69.4 68.1 58.9 65.3 76.0
1250 67.3 66.0 58.8 64.8 78.0
1255 66.2 64.9 58.8 64.1 72.0
1260 66.0 64.7 58.9 63.9 73.0
1265 66.1 64.8 59.0 64.0 75.5
1270 67.0 65.7 59.3 64.5 77.0
1275 69.0 67.7 59.8 65.3 78.5
1280 68.8 67.5 60.0 65.2 76.0
1285 67.8 66.5 60.0 64.8 78.0
1290 67.2 65.9 59.8 64.6 74.5
1295 66.9 65.6 59.6 64.4 73.0
1300 66.9 65.6 59.3 64.4 76.0
1305 66.9 65.6 59.2 64.4 74.0
1310 69.8 68.5 59.4 65.5 81.0
1315 70.6 69.3 59.7 65.8 79.0
1320 69.8 68.5 60.0 65.6 80.5
1325 70.2 68.9 59.9 65.7 78.0
1330 68.1 66.8 59.2 65.0 79.5
1335 68.3 67.0 58.4 65.0 77.0
1340 67.5 66.2 58.3 64.8 76.0
1345 66.9 65.6 58.3 64.5 74.0
1350 66.3 65.0 58.4 64.2 77.5
1355 66.7 65.4 58.1 64.3 73.0
1360 66.2 64.9 57.7 64.1 76.0
1365 66.3 65.0 57.6 64.2 72.5
1370 66.8 65.5 57.7 64.5 75.0
1375 66.5 65.2 57.8 64.4 74.0
1380 66.2 65.3 57.8 64.5 72.5
1385 66.3 65.4 57.8 64.6 73.5
1390 66.4 65.5 57.9 64.7 71.5
1395 66.5 65.6 58.1 64.8 72.0
1400 66.6 65.7 58.4 64.9 70.5
1405 66.8 65.9 58.6 65.1 71.5
1410 67.0 66.1 58.7 65.3 70.0
1415 66.9 66.0 58.8 65.2 69.5
1420 66.8 65.9 58.7 65.2 70.5
1425 66.8 65.9 58.6 65.2 69.8
1430 66.9 66.0 58.9 65.3 70.0
1435 66.9 66.0 58.8 65.3 70.3
}\botdata

\pgfplotsset{
  dbbase/.style={
    scale only axis, width=1645pt, height=362.8pt,
    xmin=0, xmax=1440, ymin=24, ymax=108,
    ytick={24,36,...,108}, minor y tick num=3,
    tick align=outside,
    major tick length=3.5pt, minor tick length=2pt,
    every tick/.style={black, line width=0.6pt},
    tick label style={font=\fontsize{5.4}{6}\selectfont},
    /pgf/number format/assume math mode=true,
    label style={font=\fontsize{8.3}{9}\selectfont},
  },
  legstyle/.style={
    legend cell align=left,
    legend style={font=\fontsize{6.8}{8}\selectfont, fill=legfill, draw=legdraw,
                  rounded corners=1.5pt, line width=0.6pt,
                  nodes={inner sep=1.3pt}, row sep=-0.4pt},
  },
  dbaxis/.style={
    dbbase, legstyle,
    xtick={0,120,...,1320}, minor x tick num=3,
    xtick pos=left, ytick pos=left,
    grid=both,
    major grid style={line width=0.8pt, color=gridmaj},
    minor grid style={line width=0.45pt, color=gridmin, dash pattern=on 1.8pt off 1.2pt},
    axis line style={line width=0.9pt},
    axis background/.style={fill=bgc},
    xlabel={time}, ylabel={dB SPL},
    title style={at={(0,1)}, anchor=base west, yshift=7pt, inner sep=0pt,
                 font=\bfseries\fontsize{8.3}{9}\selectfont},
  },
  rightaxis/.style={
    dbbase,
    axis x line=none, axis y line*=right,
    axis line style={line width=0.9pt},
    ylabel={dB SPL},
  },
}

\begin{document}
\begin{tikzpicture}
\path[use as bounding box] (0,0) rectangle (1728pt,864pt);

\node[anchor=base west, inner sep=0pt, font=\bfseries\fontsize{10}{12}\selectfont] at (17.5pt,847.2pt) {data from [425/mic0]};
\node[anchor=base west, inner sep=0pt, font=\bfseries\fontsize{10}{12}\selectfont] at (17.5pt,836.4pt) {starting point is [20250325\_000057]};

% ---------------- top panel ----------------
\begin{axis}[dbaxis, at={(41.9pt,440.8pt)}, anchor=south west,
  xticklabels={00:00,02:00,04:00,06:00,08:00,10:00,12:00,14:00,16:00,18:00,20:00,22:00},
  title={average and peak noise level (1 min sampling)},
  legend columns=2,
  legend style={at={(0.9978,0.009)}, anchor=south east, /tikz/every even column/.append style={column sep=9pt}},
]
\addlegendimage{only marks, mark=*, mark size=1.3pt, color=pkZ}
\addlegendentry{peak dB(Z)}
\addlegendimage{line width=2.4pt, color=avZ}
\addlegendentry{avg dB(Z)}
\addlegendimage{only marks, mark=*, mark size=1.3pt, color=pkC}
\addlegendentry{peak dB(C)}
\addlegendimage{line width=2.4pt, color=avC}
\addlegendentry{avg dB(C)}
\addlegendimage{only marks, mark=*, mark size=1.3pt, color=pkA}
\addlegendentry{peak dB(A)}
\addlegendimage{line width=2.4pt, color=avA}
\addlegendentry{avg dB(A)}

\addplot[only marks, mark=+, mark size=1.3pt, color=pkZ, mark options={line width=0.6pt}, forget plot] table[x=t,y=pZ]{\topdata};
\addplot[only marks, mark=+, mark size=1.3pt, color=pkZ, mark options={line width=0.6pt}, forget plot] table[x=t,y=pZ]{\topdataB};
\addplot[only marks, mark=+, mark size=1.3pt, color=pkC, mark options={line width=0.6pt}, forget plot] table[x=t,y=pC]{\topdata};
\addplot[only marks, mark=+, mark size=1.3pt, color=pkC, mark options={line width=0.6pt}, forget plot] table[x=t,y=pC]{\topdataB};
\addplot[only marks, mark=+, mark size=1.3pt, color=pkA, mark options={line width=0.6pt}, forget plot] table[x=t,y=pA]{\topdata};
\addplot[only marks, mark=+, mark size=1.3pt, color=pkA, mark options={line width=0.6pt}, forget plot] table[x=t,y=pA]{\topdataB};
\addplot[no marks, line width=0.9pt, color=avZ, forget plot] table[x=t,y=aZ]{\topdata};
\addplot[no marks, line width=0.9pt, color=avC, forget plot] table[x=t,y=aC]{\topdata};
\addplot[no marks, line width=0.9pt, color=avA, forget plot] table[x=t,y=aA]{\topdata};
\end{axis}
\begin{axis}[rightaxis, at={(41.9pt,440.8pt)}, anchor=south west]
\addplot[draw=none, no marks, forget plot] coordinates {(0,24) (1440,108)};
\end{axis}

% ---------------- bottom panel ----------------
% background, grid, labels and the min/max envelope (stacked: lo, then hi-lo)
\begin{axis}[dbaxis, at={(41.9pt,36.4pt)}, anchor=south west, stack plots=y,
  xticklabels={00:00:00,02:00:00,04:00:00,06:00:00,08:00:00,10:00:00,12:00:00,14:00:00,16:00:00,18:00:00,20:00:00,22:00:00},
  title={average noise level (5 min with 15s min/max dB envelope)},
]
\addplot[draw=none, no marks, forget plot] table[x=t, y=lo]{\botdata};
\addplot[draw=none, no marks, fill=envc, fill opacity=0.32, forget plot]
  table[x=t, y expr=\thisrow{hi}-\thisrow{lo}]{\botdata} \closedcycle;
\end{axis}
% the three averaged lines and their legend
\begin{axis}[dbbase, legstyle, hide axis, at={(41.9pt,36.4pt)}, anchor=south west,
  legend style={at={(0.9978,0.009)}, anchor=south east},
]
\addlegendimage{line width=2.4pt, color=lnZ}
\addlegendentry{dB(Z)}
\addlegendimage{line width=2.4pt, color=lnC}
\addlegendentry{dB(C)}
\addlegendimage{line width=2.4pt, color=lnA}
\addlegendentry{dB(A)}
\addplot[no marks, line width=1.1pt, color=lnZ, forget plot] table[x=t,y=Z]{\botdata};
\addplot[no marks, line width=1.1pt, color=lnC, forget plot] table[x=t,y=C]{\botdata};
\addplot[no marks, line width=1.1pt, color=lnA, forget plot] table[x=t,y=A]{\botdata};
\end{axis}
\begin{axis}[rightaxis, at={(41.9pt,36.4pt)}, anchor=south west]
\addplot[draw=none, no marks, forget plot] coordinates {(0,24) (1440,108)};
\end{axis}
\end{tikzpicture}
\end{document}
